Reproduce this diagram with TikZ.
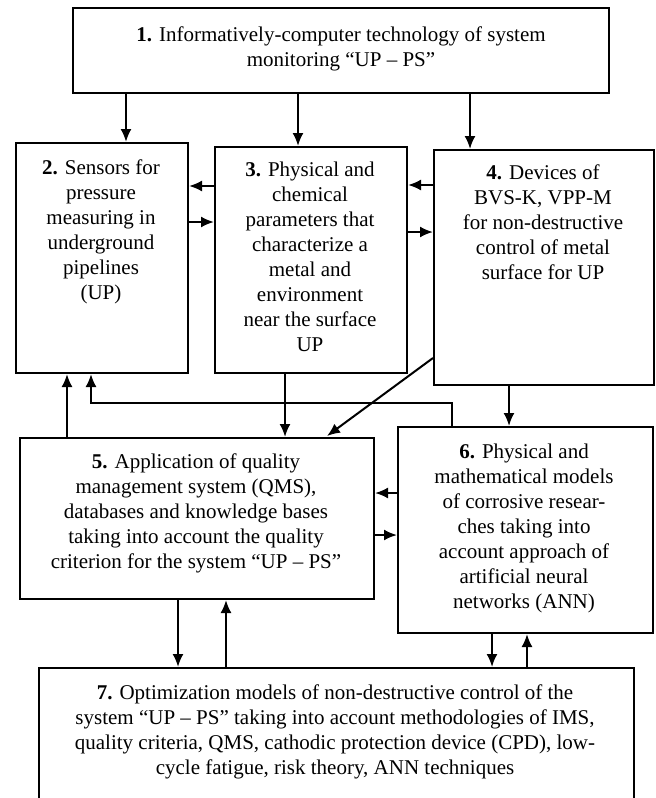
\documentclass[tikz,border=0pt]{standalone}
\usepackage{fontspec}
\setmainfont{Liberation Serif}
\usepackage{tikz}
\usetikzlibrary{arrows.meta}

\begin{document}
\begin{tikzpicture}[x=1pt,y=-1pt]
\tikzset{>={Latex[length=13pt,width=11pt]}}
\tikzset{box/.style={draw,line width=2pt,anchor=north west,inner sep=0pt},
  txt/.style={align=center,inner sep=0pt,font=\fontsize{21}{25}\selectfont},
  link/.style={->,line width=2pt}}

\clip (0,0) rectangle (656,798);

% blocks
\node[box,minimum width=536,minimum height=85] (b1) at (72,7) {};
\node[box,minimum width=172,minimum height=230] (b2) at (15,142) {};
\node[box,minimum width=192,minimum height=226] (b3) at (214,146) {};
\node[box,minimum width=220,minimum height=235] (b4) at (433,149) {};
\node[box,minimum width=354,minimum height=161] (b5) at (19,437) {};
\node[box,minimum width=255,minimum height=206] (b6) at (397,426) {};
\node[box,minimum width=595,minimum height=180] (b7) at (38,667) {};

% texts
\node[txt] (t1) at ([yshift=2]b1.center) {\textbf{1.} Informatively-computer technology of system\\ monitoring ``UP -- PS''};
\node[txt,anchor=north] (t2) at (101,160) {\textbf{2.} Sensors for\\ pressure\\ measuring in\\ underground\\ pipelines\\ (UP)};
\node[txt,anchor=north] (t3) at (310,162) {\textbf{3.} Physical and\\ chemical\\ parameters that\\ characterize a\\ metal and\\ environment\\ near the surface\\ UP};
\node[txt,anchor=north] (t4) at (543,165) {\textbf{4.} Devices of\\ BVS-K, VPP-M\\ for non-destructive\\ control of metal\\ surface for UP};
\node[txt] (t5) at (196,513) {\textbf{5.} Application of quality\\ management system (QMS),\\ databases and knowledge bases\\ taking into account the quality\\ criterion for the system ``UP -- PS''};
\node[txt] (t6) at (524,528) {\textbf{6.} Physical and\\ mathematical models\\ of corrosive resear-\\ ches taking into\\ account approach of\\ artificial neural\\ networks (ANN)};
\node[txt,anchor=north] (t7) at (335,685) {\textbf{7.} Optimization models of non-destructive control of the\\ system ``UP -- PS'' taking into account methodologies of IMS,\\ quality criteria, QMS, cathodic protection device (CPD), low-\\ cycle fatigue, risk theory, ANN techniques};

% links from 1
\draw[link] (b1.south -| 126,0) -- (b2.north -| 126,0);
\draw[link] (b1.south -| 298,0) -- (b3.north -| 298,0);
\draw[link] (b1.south -| 470,0) -- (b4.north -| 470,0);

% links between 2, 3, 4
\draw[link] (b3.west |- 0,186) -- (b2.east |- 0,186);
\draw[link] (b2.east |- 0,222) -- (b3.west |- 0,222);
\draw[link] (b4.west |- 0,185) -- (b3.east |- 0,185);
\draw[link] (b3.east |- 0,232) -- (b4.west |- 0,232);

% links down to 5 and 6
\draw[link] (b3.south -| 285,0) -- (b5.north -| 285,0);
\draw[link] (b4.west |- 0,358) -- (327,436);
\draw[link] (b4.south -| 509,0) -- (b6.north -| 509,0);

% feedback to 2
\draw[link] (b5.north -| 67,0) -- (b2.south -| 67,0);
\draw[link] (b6.north -| 452,0) -- (452,403) -- (91,403) -- (b2.south -| 91,0);

% links between 5 and 6
\draw[link] (b6.west |- 0,493) -- (b5.east |- 0,493);
\draw[link] (b5.east |- 0,535) -- (b6.west |- 0,535);

% links with 7
\draw[link] (b5.south -| 178,0) -- (b7.north -| 178,0);
\draw[link] (b7.north -| 226,0) -- (b5.south -| 226,0);
\draw[link] (b6.south -| 492,0) -- (b7.north -| 492,0);
\draw[link] (b7.north -| 527,0) -- (b6.south -| 527,0);
\end{tikzpicture}
\end{document}
